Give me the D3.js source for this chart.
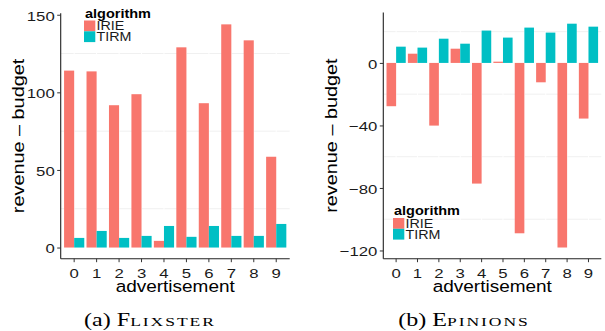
<!DOCTYPE html>
<html><head><meta charset="utf-8">
<script src="https://cdn.jsdelivr.net/npm/d3@7"></script>
<style>body{margin:0;background:#fff}svg{display:block}</style>
</head><body>
<svg id="c" width="605" height="331"></svg>
<script>
const categories = ["0","1","2","3","4","5","6","7","8","9"];
const algorithms = ["IRIE","TIRM"];
const flixsterIRIE = [114, 113.5, 91.7, 98.8, 4.3, 129, 93, 143.8, 133.5, 58.5];
const flixsterTIRM = [6.2, 10.7, 6.2, 7.5, 13.9, 6.9, 13.9, 7.5, 7.5, 15.2];
const epinionsIRIE = [-27.7, 5.9, -40.1, 9.1, -77.2, 0.8, -109, -12.4, -118.1, -35.6];
const epinionsTIRM = [10.4, 9.8, 15.5, 12.3, 20.7, 16.2, 22.6, 19.4, 25.1, 23.2];
const flixsterTicks = [0, 50, 100, 150];
const flixsterMinor = [25, 75, 125];
const epinionsTicks = [-120, -80, -40, 0];
const epinionsMinor = [-100, -60, -20, 20];
const colors = ["#F8766D", "#00BFC4"];

const svg = d3.select("#c");
const FONT = "'Liberation Sans', Arial, Helvetica, sans-serif";
const SERIF = "'Liberation Serif', 'Times New Roman', serif";
const TSX = 1.24; // horizontal widening of tick labels

function panel(o) {
  const g = svg.append("g");
  const all = o.series.flat().concat([0]);
  const [mn, mx] = d3.extent(all);
  const pad = (mx - mn) * 0.05;
  const y = d3.scaleLinear().domain([mn - pad, mx + pad]).range([o.bottom, o.top]);
  const x = d3.scaleBand().domain(categories).range([o.left, o.right]).paddingInner(0.1).paddingOuter(0.15);
  const xi = d3.scaleBand().domain(algorithms).range([0, x.bandwidth()]).padding(0);

  // minor gridlines (faint)
  g.selectAll(".gmin").data(o.minor).join("line")
    .attr("x1", o.left).attr("x2", o.right)
    .attr("y1", d => y(d)).attr("y2", d => y(d))
    .attr("stroke", "#f0f0f0").attr("stroke-width", 1);
  // vertical white major lines
  g.selectAll(".gv").data(categories).join("line")
    .attr("x1", d => x(d) + x.bandwidth() / 2).attr("x2", d => x(d) + x.bandwidth() / 2)
    .attr("y1", o.top).attr("y2", o.bottom)
    .attr("stroke", "#fff").attr("stroke-width", 1);

  // bars
  algorithms.forEach((a, ai) => {
    g.selectAll(".b" + ai).data(o.series[ai]).join("rect")
      .attr("x", (d, i) => x(categories[i]) + xi(a))
      .attr("width", xi.bandwidth())
      .attr("y", d => y(Math.max(0, d)))
      .attr("height", d => Math.abs(y(d) - y(0)))
      .attr("fill", colors[ai]);
  });

  // axes
  const ya = g.append("g").attr("transform", `translate(${o.left},0)`)
    .call(d3.axisLeft(y).tickValues(o.ticks).tickSize(3.5).tickPadding(2).tickSizeOuter(0));
  ya.select(".domain").attr("stroke", "#222").attr("stroke-width", 1.1)
    .attr("d", `M0,${o.top}V${o.bottom}`);
  ya.selectAll(".tick line").attr("stroke", "#333");
  ya.selectAll("text").attr("font-family", FONT).attr("font-size", 13.5).attr("fill", "#1a1a1a")
    .attr("x", -6 / TSX).attr("dy", "0.4em").attr("transform", `scale(${TSX},1)`);
  const xa = g.append("g").attr("transform", `translate(0,${o.bottom})`)
    .call(d3.axisBottom(x).tickSize(3.5).tickPadding(6).tickSizeOuter(0));
  xa.select(".domain").attr("stroke", "#222").attr("stroke-width", 1.1)
    .attr("d", `M${o.left},0H${o.right}`);
  xa.selectAll(".tick line").attr("stroke", "#333");
  xa.selectAll("text").attr("font-family", FONT).attr("font-size", 13.5).attr("fill", "#1a1a1a")
    .attr("transform", `scale(${TSX},1)`);

  // axis titles
  const cx = (o.left + o.right) / 2;
  g.append("text").attr("transform", `translate(${cx},291.5) scale(1.15,1)`)
    .attr("text-anchor", "middle").attr("font-family", FONT).attr("font-size", 16.5)
    .attr("fill", "#000").text("advertisement");
  g.append("text").attr("transform", `translate(${o.ytx},${(o.top + o.bottom) / 2}) rotate(-90) scale(1.24,1)`)
    .attr("text-anchor", "middle").attr("font-family", FONT).attr("font-size", 16)
    .attr("fill", "#000").text("revenue \u2013 budget");

  // legend
  const lg = g.append("g").attr("transform", `translate(${o.lx},${o.ly})`);
  lg.append("text").attr("transform", "translate(1,0) scale(1.16,1)")
    .attr("font-family", FONT).attr("font-weight", "bold")
    .attr("font-size", 12.5).attr("fill", "#000").text("algorithm");
  algorithms.forEach((a, i) => {
    lg.append("rect").attr("x", 0).attr("y", 3 + i * 10.8).attr("width", 11.3).attr("height", 10.8)
      .attr("fill", colors[i]);
    lg.append("text").attr("transform", `translate(12.5,${12.8 + i * 10.8}) scale(1.06,1)`)
      .attr("font-family", FONT)
      .attr("font-size", 13.5).attr("fill", "#1a1a1a").text(a);
  });

  // caption
  const cap = g.append("text").attr("transform", `translate(${o.capx},326) scale(1.3,1)`)
    .attr("text-anchor", "middle").attr("font-family", SERIF).attr("fill", "#000");
  cap.append("tspan").attr("font-size", 18.5).text(o.cap[0]);
  cap.append("tspan").attr("font-size", 18.5).text(o.cap[1]);
  cap.append("tspan").attr("font-size", 13.5).attr("letter-spacing", 1.5).text(o.cap[2]);
}

panel({ series: [flixsterIRIE, flixsterTIRM], ticks: flixsterTicks, minor: flixsterMinor,
  left: 60.7, right: 289.7, top: 13.2, bottom: 258.7, ytx: 24.2, lx: 84, ly: 17.5,
  capx: 150, cap: ["(a) ", "F", "LIXSTER"] });
panel({ series: [epinionsIRIE, epinionsTIRM], ticks: epinionsTicks, minor: epinionsMinor,
  left: 383.3, right: 601.3, top: 12.5, bottom: 258.7, ytx: 336.5, lx: 393, ly: 215,
  capx: 464, cap: ["(b) ", "E", "PINIONS"] });
</script>
</body></html>
